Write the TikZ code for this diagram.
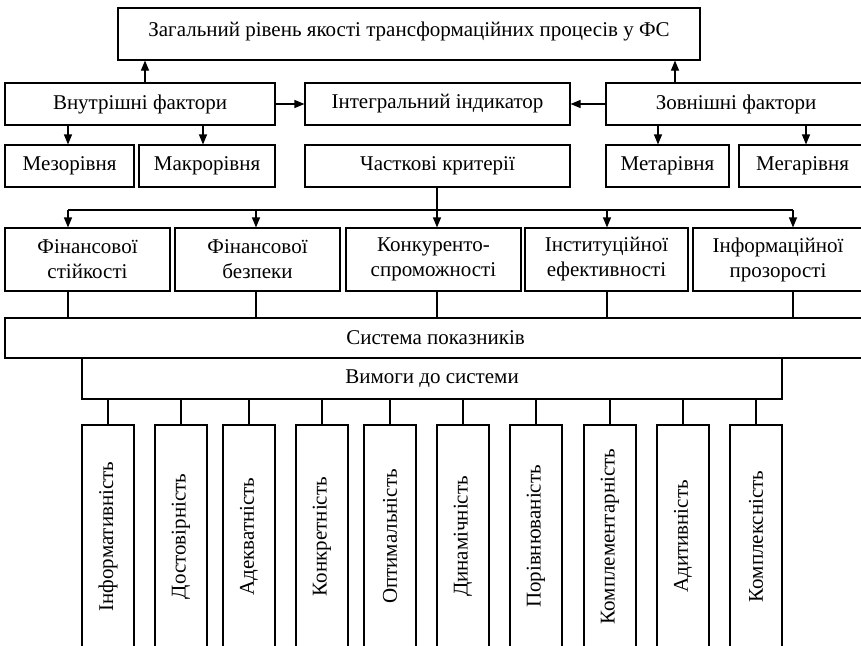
\documentclass[tikz,border=0pt]{standalone}
\usepackage{fontspec}
\setmainfont{Liberation Serif}
\usetikzlibrary{arrows.meta}
\tikzstyle{boite}           =[draw, line width=1.1pt, inner sep=0pt, align=center, font=\fontsize{21}{25}\selectfont]
\tikzstyle{fleche}          =[line width=1.1pt, -{Triangle[length=10pt,width=8pt]}]
\tikzstyle{trait}           =[line width=1.1pt]

\begin{document}
\begin{tikzpicture}[x=1pt,y=-1pt]

\useasboundingbox (0,0) rectangle (861,645);
\clip (0,0) rectangle (861,645); %les cadres de droite et du bas sont coupés

%%%%%%%%%%%%%%%%%%%%%%%%
%niveau du haut
%%%%%%%%%%%%%%%%%%%%%%%%
\node[boite, minimum width=582pt, minimum height=52pt, text height=28pt, text depth=24pt] (global) at (409,34) {Загальний рівень якості трансформаційних процесів у ФС};

\node[boite, minimum width=270pt, minimum height=42pt] (vnut) at (140,104) {Внутрішні фактори};
\node[boite, minimum width=265pt, minimum height=42pt] (integ) at (437.5,104) {Інтегральний індикатор};
\node[boite, minimum width=260pt, minimum height=42pt] (zovn) at (736,104) {Зовнішні фактори};

\node[boite, minimum width=129pt, minimum height=42pt] (mezo) at (69.5,166) {Мезорівня};
\node[boite, minimum width=136pt, minimum height=42pt] (makro) at (207,166) {Макрорівня};
\node[boite, minimum width=265pt, minimum height=42pt] (chast) at (437.5,166) {Часткові критерії};
\node[boite, minimum width=123pt, minimum height=42pt] (meta) at (667.5,166) {Метарівня};
\node[boite, minimum width=127pt, minimum height=42pt] (mega) at (802.5,166) {Мегарівня};

%flèches du haut
\draw[fleche] ([xshift=5pt]vnut.north) -- ([xshift=5pt]vnut.north |- global.south);
\draw[fleche] ([xshift=-61pt]zovn.north) -- ([xshift=-61pt]zovn.north |- global.south);
\draw[fleche] (vnut.east) -- (integ.west);
\draw[fleche] (zovn.west) -- (integ.east);
\draw[fleche] ([xshift=-72pt]vnut.south) -- ([xshift=-72pt]vnut.south |- mezo.north);
\draw[fleche] ([xshift=63pt]vnut.south) -- ([xshift=63pt]vnut.south |- makro.north);
\draw[fleche] ([xshift=-78pt]zovn.south) -- ([xshift=-78pt]zovn.south |- meta.north);
\draw[fleche] ([xshift=70pt]zovn.south) -- ([xshift=70pt]zovn.south |- mega.north);

%%%%%%%%%%%%%%%%%%%%%%%%
%critères
%%%%%%%%%%%%%%%%%%%%%%%%
\node[boite, minimum width=165pt, minimum height=63pt] (k1) at (87.5,259.5) {Фінансової\\стійкості};
\node[boite, minimum width=165pt, minimum height=63pt] (k2) at (257.5,259.5) {Фінансової\\безпеки};
\node[boite, minimum width=175pt, minimum height=63pt] (k3) at (433.5,259.5) {Конкуренто-\\спроможності};
\node[boite, minimum width=163pt, minimum height=63pt] (k4) at (606.5,259.5) {Інституційної\\ефективності};
\node[boite, minimum width=170pt, minimum height=63pt] (k5) at (778,259.5) {Інформаційної\\прозорості};

\node[boite, minimum width=861pt, minimum height=40pt] (sys) at (435.5,338) {Система показників};
\node[boite, minimum width=700pt, minimum height=41pt] (vim) at (432,378.5) {Вимоги до системи};

%le bus sous les critères partiels
\coordinate (b1) at (68,210);
\coordinate (b2) at (256,210);
\coordinate (b3) at (437,210);
\coordinate (b4) at (607,210);
\coordinate (b5) at (793,210);
\draw[trait] (chast.south -| b3) -- (b3);
\draw[trait] (b1) -- (b5);
\foreach \i in {1,...,5}{
  \draw[fleche] (b\i) -- (b\i |- k\i.north);
  \draw[trait] (b\i |- k\i.south) -- (b\i |- sys.north);
}

%%%%%%%%%%%%%%%%%%%%%%%%
%exigences (cadres verticaux)
%%%%%%%%%%%%%%%%%%%%%%%%
\foreach \nom/\x/\texte in {v1/108/Інформативність, v2/181/Достовірність, v3/249/Адекватність, v4/322/Конкретність, v5/390/Оптимальність, v6/463/Динамічність, v7/536/Порівнюваність, v8/610/Комплементарність, v9/683/Адитивність, v10/756/Комплексність}{
  \node[boite, minimum width=52pt, minimum height=223pt] (\nom) at (\x,536.5) {\rotatebox{90}{\texte}};
  \draw[trait] (vim.south -| \nom.north) -- (\nom.north);
}

\end{tikzpicture}
\end{document}
